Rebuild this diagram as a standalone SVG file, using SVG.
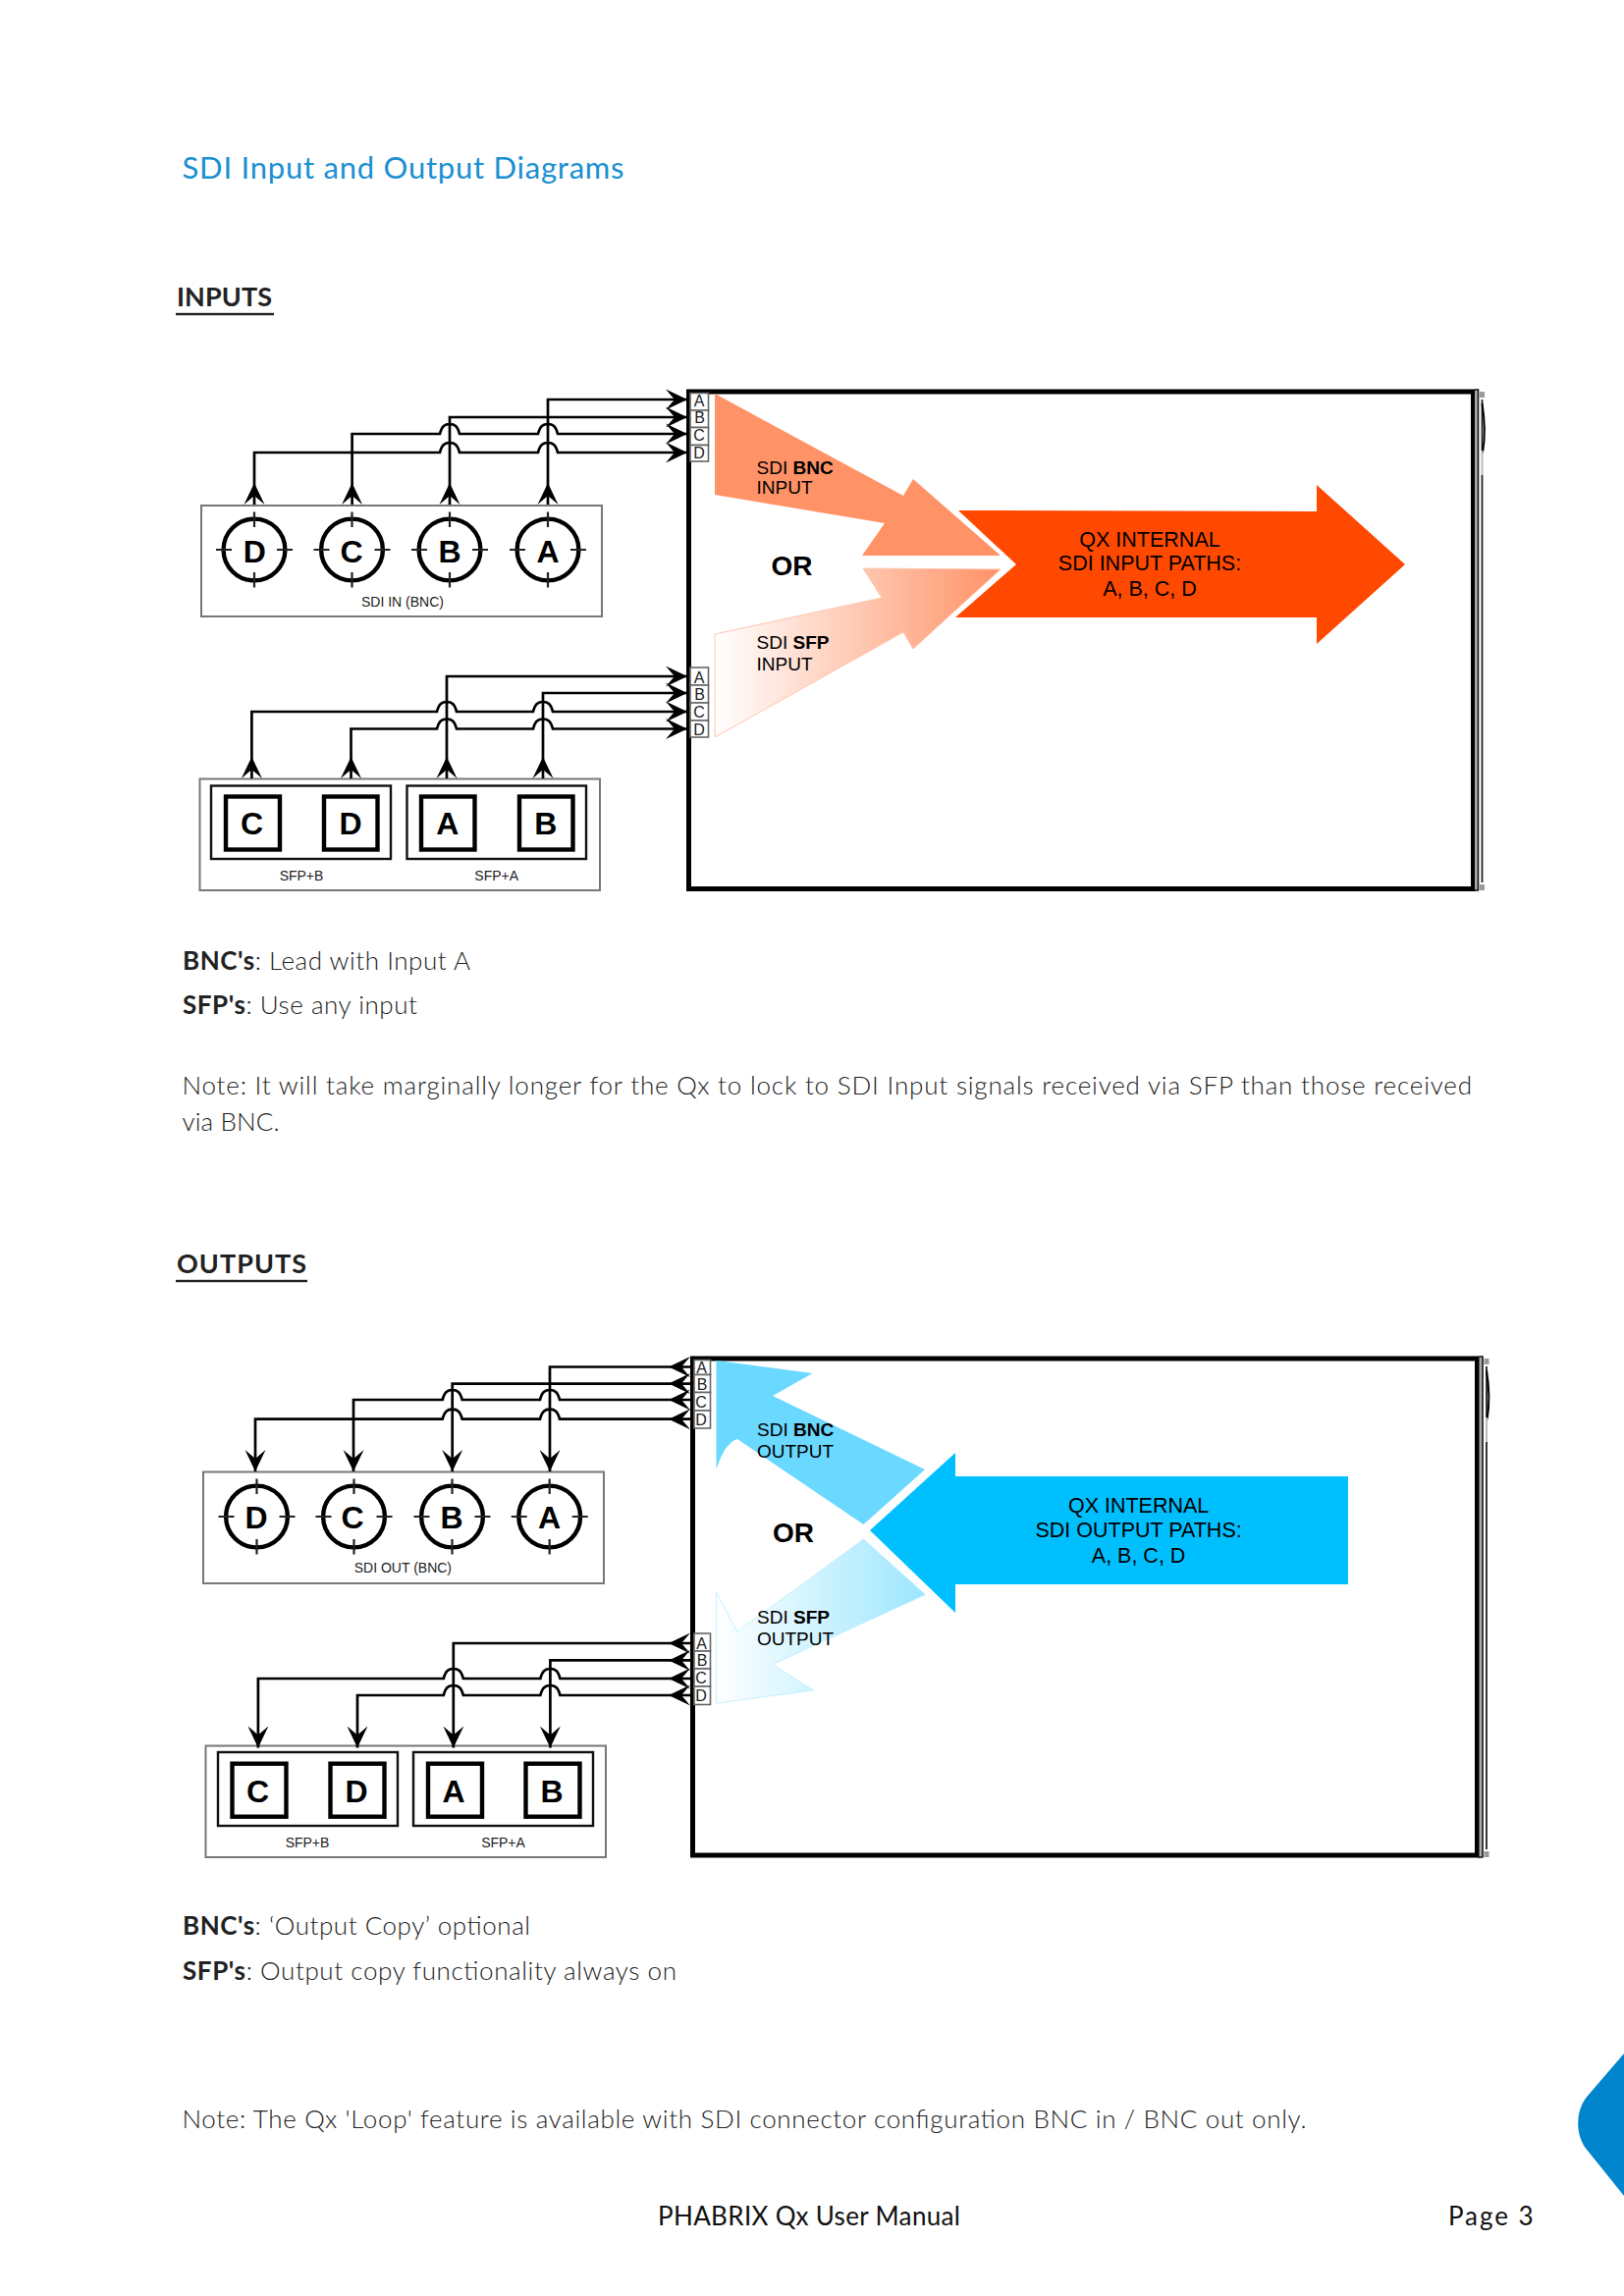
<svg xmlns="http://www.w3.org/2000/svg" width="1654" height="2339" viewBox="0 0 1654 2339">
<style>
text{font-family:"Liberation Sans",Arial,sans-serif;fill:#000}
.body{font-family:Lato,"Open Sans",sans-serif;font-weight:300;font-size:26px;fill:#222}
.b{font-weight:700}
.sec{font-family:Lato,"Open Sans",sans-serif;font-weight:700;font-size:27px;fill:#222}
.foot{font-family:Lato,"Open Sans",sans-serif;font-weight:400;font-size:26px;fill:#111}
.pan{fill:none;stroke:#777;stroke-width:2}
.frm{fill:none;stroke:#111;stroke-width:2.4}
.sq{fill:#fff;stroke:#000;stroke-width:4.4}
.big{font-weight:700;font-size:32px;text-anchor:middle}
.sml{font-size:14px;text-anchor:middle;fill:#222}
.cel{fill:#fff;stroke:#666;stroke-width:1.6}
.cl{font-size:16px;text-anchor:middle;fill:#222}
.lab{font-size:19px}
.or{font-size:28px;font-weight:700}
.qx{font-size:21.5px;text-anchor:middle}
.box{fill:#fff;stroke:#000;stroke-width:5}
.w{fill:none;stroke:#000;stroke-width:2.7;marker-start:url(#hs);marker-end:url(#he)}
.edg1{fill:#aaa;stroke:none}
.edg2{fill:none;stroke:#111;stroke-width:1.6}
</style>
<defs>
<marker id="hs" markerUnits="userSpaceOnUse" markerWidth="24" markerHeight="24" viewBox="0 -12 24 24" refX="0" refY="0" orient="auto"><path d="M22 0L0 -10.500L9 0L0 10.500Z" fill="#000"/></marker>
<marker id="he" markerUnits="userSpaceOnUse" markerWidth="24" markerHeight="24" viewBox="0 -12 24 24" refX="22" refY="0" orient="auto"><path d="M22 0L0 -10.500L9 0L0 10.500Z" fill="#000"/></marker>
<g id="bncc">
<circle r="31.4" fill="#fff" stroke="#000" stroke-width="4.4"/>
<path d="M-39 0H-23M23 0H39M0 -38.500V-23M0 23V38.500" stroke="#222" stroke-width="2.200" fill="none"/>
</g>
<linearGradient id="gi" gradientUnits="userSpaceOnUse" x1="728" y1="0" x2="1019" y2="0"><stop offset="0" stop-color="#fff"/><stop offset="1" stop-color="#FF9266"/></linearGradient>
<linearGradient id="go" gradientUnits="userSpaceOnUse" x1="729" y1="0" x2="943" y2="0"><stop offset="0" stop-color="#fff"/><stop offset="1" stop-color="#9CE6FF"/></linearGradient>
<g id="edge">
<rect class="edg1" x="1502" y="-2" width="3" height="510"/>
<path class="edg2" d="M1502 -2H1505.500V508M1501 508H1506"/>
<path d="M1507 0H1512V6H1507ZM1507 502H1512V508H1507Z" fill="#999"/>
<path d="M1509.500 8V60M1509.500 85V500" fill="none" stroke="#222" stroke-width="1.800"/>
<path d="M1509.500 12Q1514 40 1510 62" fill="none" stroke="#000" stroke-width="2"/>
<path d="M1509.500 60V85" fill="none" stroke="#bbb" stroke-width="2"/>
</g>
</defs>
<rect width="1654" height="2339" fill="#fff"/>

<g id="page-text">
<text x="185.500" y="181.700" font-size="31" style="font-family:Lato,'Open Sans',sans-serif;fill:#1A8FD1" textLength="450">SDI Input and Output Diagrams</text>
<text class="sec" x="180" y="312.300" textLength="97">INPUTS</text>
<rect x="179" y="318.800" width="100" height="2.400" fill="#222"/>
<text class="body" x="186" y="988.300" textLength="293"><tspan class="b">BNC's</tspan>: Lead with Input A</text>
<text class="body" x="186" y="1033.300" textLength="239"><tspan class="b">SFP's</tspan>: Use any input</text>
<text class="body" x="185.500" y="1115" textLength="1313.500">Note: It will take marginally longer for the Qx to lock to SDI Input signals received via SFP than those received</text>
<text class="body" x="185.500" y="1151.700" textLength="99">via BNC.</text>
<text class="sec" x="180" y="1297" textLength="132">OUTPUTS</text>
<rect x="179" y="1303.800" width="134" height="2.400" fill="#222"/>
<text class="body" x="186" y="1970.700" textLength="354"><tspan class="b">BNC's</tspan>: ‘Output Copy’ optional</text>
<text class="body" x="186" y="2017" textLength="503"><tspan class="b">SFP's</tspan>: Output copy functionality always on</text>
<text class="body" x="185.500" y="2168" textLength="1145">Note: The Qx 'Loop' feature is available with SDI connector configuration BNC in / BNC out only.</text>
<text class="foot" x="670" y="2266.700" textLength="308">PHABRIX Qx User Manual</text>
<text class="foot" x="1475" y="2266.700" textLength="86.500">Page 3</text>
<path id="corner-tab" d="M1654 2092L1617 2135C1604 2150 1604 2176 1617 2191L1654 2237Z" fill="#0085CC"/>
</g>

<g id="input-unit">
<rect class="box" x="701.500" y="399" width="799" height="506.500"/>
<use href="#edge" y="399"/>
<path d="M728 401L920 505L930 488L1019 566L878 566L901 533L728 504Z" fill="#FF9266"/>
<path d="M728 646L898 609L879 579L1019 580L930 661L920 644L728 751Z" fill="url(#gi)" stroke="#FFC4AC" stroke-width="1"/>
<path d="M976 520L1341 521L1341 494L1431 575L1341 656L1341 629L973 629L1035 575Z" fill="#FF4800"/>
<text class="lab" x="770.500" y="482.500">SDI <tspan font-weight="700">BNC</tspan></text>
<text class="lab" x="770.500" y="503">INPUT</text>
<text class="or" x="785.500" y="586">OR</text>
<text class="lab" x="770.500" y="661">SDI <tspan font-weight="700">SFP</tspan></text>
<text class="lab" x="770.500" y="682.500">INPUT</text>
<text class="qx" x="1171" y="556.800">QX INTERNAL</text>
<text class="qx" x="1171" y="581">SDI INPUT PATHS:</text>
<text class="qx" x="1171" y="606.800">A, B, C, D</text>
</g>

<g id="input-bnc-ports">
<rect class="cel" x="703" y="400.500" width="18.500" height="17.500"/><rect class="cel" x="703" y="418" width="18.500" height="17.500"/><rect class="cel" x="703" y="435.500" width="18.500" height="18"/><rect class="cel" x="703" y="453.500" width="18.500" height="16.500"/>
<text class="cl" x="712" y="413.500">A</text><text class="cl" x="712.500" y="431">B</text><text class="cl" x="712" y="448.500">C</text><text class="cl" x="712" y="466.500">D</text>
</g>
<g id="input-sfp-ports">
<rect class="cel" x="703" y="680" width="18.500" height="18"/><rect class="cel" x="703" y="698" width="18.500" height="18"/><rect class="cel" x="703" y="716" width="18.500" height="18"/><rect class="cel" x="703" y="734" width="18.500" height="17"/>
<text class="cl" x="712" y="695.500">A</text><text class="cl" x="712.500" y="713">B</text><text class="cl" x="712" y="730.500">C</text><text class="cl" x="712" y="748.500">D</text>
</g>

<g id="sdi-in-bnc">
<rect class="pan" x="205" y="515" width="408" height="113"/>
<use href="#bncc" x="259" y="560"/><use href="#bncc" x="358.500" y="560"/><use href="#bncc" x="458" y="560"/><use href="#bncc" x="558" y="560"/>
<text class="big" x="259.300" y="572.900">D</text><text class="big" x="358" y="572.900">C</text><text class="big" x="458" y="572.900">B</text><text class="big" x="558" y="572.900">A</text>
<text class="sml" x="410" y="617.500">SDI IN (BNC)</text>
</g>
<g id="sfp-in">
<rect class="pan" x="203.500" y="793.500" width="407.500" height="113.500"/>
<rect class="frm" x="215" y="800.500" width="183" height="74.500"/><rect class="frm" x="414.500" y="800.500" width="182.500" height="74.500"/>
<rect class="sq" x="230" y="811.500" width="55" height="54"/><rect class="sq" x="330" y="811.500" width="54.500" height="54"/><rect class="sq" x="429" y="811.500" width="54.500" height="54"/><rect class="sq" x="529" y="811.500" width="54.500" height="54"/>
<text class="big" x="256.500" y="850.400">C</text><text class="big" x="357" y="850.400">D</text><text class="big" x="455.700" y="850.400">A</text><text class="big" x="555.700" y="850.400">B</text>
<text class="sml" x="307" y="897">SFP+B</text><text class="sml" x="505.700" y="897">SFP+A</text>
</g>

<g id="input-connectors">
<path class="w" d="M558 514V407H700"/>
<path class="w" d="M458 514V425H700"/>
<path class="w" d="M358.600 514V442H448c2 -8 5 -10 10 -10c5 0 8 2 10 10H548c2 -8 5 -10 10 -10c5 0 8 2 10 10H700"/>
<path class="w" d="M259 514V461H448c2 -8 5 -10 10 -10c5 0 8 2 10 10H548c2 -8 5 -10 10 -10c5 0 8 2 10 10H700"/>
<path class="w" d="M455 793V689H700"/>
<path class="w" d="M553 793V706H700"/>
<path class="w" d="M256.400 793V725H445c2 -8 5 -10 10 -10c5 0 8 2 10 10H543c2 -8 5 -10 10 -10c5 0 8 2 10 10H700"/>
<path class="w" d="M357.500 793V742.500H445c2 -8 5 -10 10 -10c5 0 8 2 10 10H543c2 -8 5 -10 10 -10c5 0 8 2 10 10H700" stroke-width="2.200"/>
</g>

<g id="output-unit">
<rect class="box" x="705.500" y="1384" width="799" height="506"/>
<use href="#edge" x="4.500" y="1384"/>
<path d="M729.500 1386L827.500 1399L787 1422L942 1497L879.500 1553L751 1466Q738 1470 729.500 1497Z" fill="#6AD8FF"/>
<path d="M879.500 1568L942.500 1624.500L787 1695.500L828.500 1722L729.500 1735L729.500 1622.500L751 1662Z" fill="url(#go)" stroke="#C4F0FF" stroke-width="1"/>
<path d="M973 1480L973 1504L1373 1504L1373 1614L973 1614L973 1643L886 1559Z" fill="#00BFFF"/>
<text class="lab" x="771" y="1463">SDI <tspan font-weight="700">BNC</tspan></text>
<text class="lab" x="771" y="1485">OUTPUT</text>
<text class="or" x="787" y="1570.700">OR</text>
<text class="lab" x="771" y="1654">SDI <tspan font-weight="700">SFP</tspan></text>
<text class="lab" x="771" y="1676">OUTPUT</text>
<text class="qx" x="1159.600" y="1541.400">QX INTERNAL</text>
<text class="qx" x="1159.600" y="1566.400">SDI OUTPUT PATHS:</text>
<text class="qx" x="1159.600" y="1592">A, B, C, D</text>
</g>

<g id="output-bnc-ports">
<rect class="cel" x="707" y="1385.500" width="16.500" height="15"/><rect class="cel" x="707" y="1400.500" width="16.500" height="18"/><rect class="cel" x="707" y="1418.500" width="16.500" height="18.500"/><rect class="cel" x="707" y="1437" width="16.500" height="18"/>
<text class="cl" x="714.500" y="1398.500">A</text><text class="cl" x="715" y="1415.500">B</text><text class="cl" x="714" y="1433.500">C</text><text class="cl" x="714" y="1451.500">D</text>
</g>
<g id="output-sfp-ports">
<rect class="cel" x="707" y="1664" width="16.500" height="18"/><rect class="cel" x="707" y="1682" width="16.500" height="18"/><rect class="cel" x="707" y="1700" width="16.500" height="18"/><rect class="cel" x="707" y="1718" width="16.500" height="18.500"/>
<text class="cl" x="714.500" y="1679.500">A</text><text class="cl" x="715" y="1697">B</text><text class="cl" x="714" y="1715">C</text><text class="cl" x="714" y="1733">D</text>
</g>

<g id="sdi-out-bnc">
<rect class="pan" x="207" y="1499.500" width="408" height="113.500"/>
<use href="#bncc" x="261.500" y="1545"/><use href="#bncc" x="360.500" y="1545"/><use href="#bncc" x="460.500" y="1545"/><use href="#bncc" x="559.700" y="1545"/>
<text class="big" x="261" y="1557">D</text><text class="big" x="359" y="1557">C</text><text class="big" x="460" y="1557">B</text><text class="big" x="559.600" y="1557">A</text>
<text class="sml" x="410.400" y="1602">SDI OUT (BNC)</text>
</g>
<g id="sfp-out">
<rect class="pan" x="209.500" y="1778.500" width="407.500" height="113.500"/>
<rect class="frm" x="222" y="1785" width="183" height="75"/><rect class="frm" x="421" y="1785" width="183" height="75"/>
<rect class="sq" x="236.500" y="1796.700" width="55" height="54"/><rect class="sq" x="336.500" y="1796.700" width="55" height="54"/><rect class="sq" x="436" y="1796.700" width="55" height="54"/><rect class="sq" x="535.500" y="1796.700" width="55" height="54"/>
<text class="big" x="262.500" y="1835.700">C</text><text class="big" x="363" y="1835.700">D</text><text class="big" x="462" y="1835.700">A</text><text class="big" x="562" y="1835.700">B</text>
<text class="sml" x="313" y="1882">SFP+B</text><text class="sml" x="512.500" y="1882">SFP+A</text>
</g>

<g id="output-connectors">
<path class="w" d="M703 1392.500H560V1499"/>
<path class="w" d="M703 1409.600H460.700V1499"/>
<path class="w" d="M703 1426H570c-2 -8 -5 -10 -10 -10c-5 0 -8 2 -10 10H470.700c-2 -8 -5 -10 -10 -10c-5 0 -8 2 -10 10H360V1499"/>
<path class="w" d="M703 1445.700H570c-2 -8 -5 -10 -10 -10c-5 0 -8 2 -10 10H470.700c-2 -8 -5 -10 -10 -10c-5 0 -8 2 -10 10H260V1499"/>
<path class="w" d="M703 1674H461.800V1780.500"/>
<path class="w" d="M703 1691.400H560.400V1780.500"/>
<path class="w" d="M703 1710H570.400c-2 -8 -5 -10 -10 -10c-5 0 -8 2 -10 10H471.800c-2 -8 -5 -10 -10 -10c-5 0 -8 2 -10 10H262.900V1780.500"/>
<path class="w" d="M703 1727H570.400c-2 -8 -5 -10 -10 -10c-5 0 -8 2 -10 10H471.800c-2 -8 -5 -10 -10 -10c-5 0 -8 2 -10 10H364V1780.500"/>
</g>
</svg>
